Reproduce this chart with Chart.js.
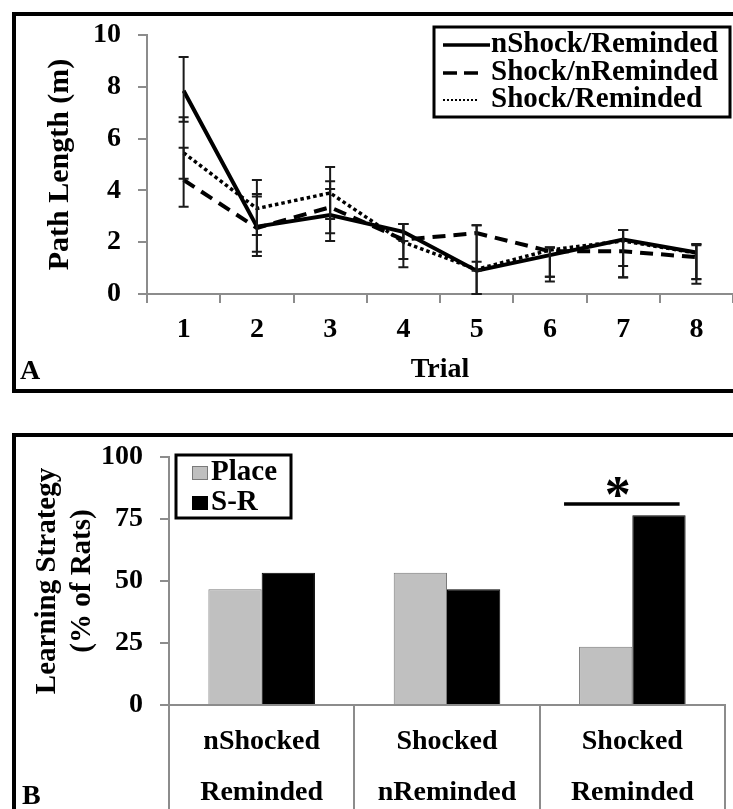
<!DOCTYPE html>
<html>
<head>
<meta charset="utf-8">
<script src="https://cdn.jsdelivr.net/npm/chart.js"></script>
<style>
  html, body { margin: 0; padding: 0; background: #fff; }
  body { position: relative; width: 733px; height: 809px; overflow: hidden; font-family: "Liberation Serif", "Times New Roman", serif; }
  .frame { position: absolute; border: 4px solid #000; border-right: none; }
  #frameA { left: 12px; top: 12px; width: 760px; height: 373px; }
  #frameB { left: 12px; top: 433px; width: 760px; height: 420px; border-bottom: none; }
  .panel-tag { position: absolute; font-weight: bold; font-size: 28px; line-height: 1; color: #000; }
  canvas { position: absolute; left: 0; }
  #pathChart { top: 0; }
  #strategyChart { top: 400px; }
</style>
</head>
<body>
<div class="frame" id="frameA"></div>
<div class="frame" id="frameB"></div>
<canvas id="pathChart" width="733" height="400"></canvas>
<canvas id="strategyChart" width="733" height="409"></canvas>
<div class="panel-tag" style="left:20px; top:356px;">A</div>
<div class="panel-tag" style="left:22px; top:781px;">B</div>

<script>
// ---- panel A: path length per trial ----
var trials = ['1', '2', '3', '4', '5', '6', '7', '8'];

var nShockReminded = [7.85, 2.6, 3.05, 2.4, 0.9, 1.5, 2.1, 1.6];
var shockNReminded = [4.4, 2.55, 3.35, 2.1, 2.35, 1.65, 1.65, 1.42];
var shockReminded  = [5.45, 3.3, 3.9, 2.0, 0.95, 1.7, 2.05, 1.58];

// error bar lengths above / below each mean
var nShockRemUp    = [1.3, 1.26, 1.0, 0.3, 1.75, 0.3, 0.37, 0.33];
var nShockRemDown  = [1.2, 1.13, 1.0, 0.35, 0.9, 0.83, 1.02, 1.2];
var shockNRemUp    = [1.25, 1.21, 1.0, 0.6, 0.3, 0.15, 0.82, 0.5];
var shockNRemDown  = [1.03, 0.92, 1.0, 0.75, 1.45, 1.17, 1.0, 0.85];
var shockRemUp     = [1.37, 1.1, 1.0, 0.7, 0.3, 0.1, 0.42, 0.3];
var shockRemDown   = [1.0, 1.02, 1.0, 0.97, 0.95, 1.03, 1.41, 1.0];

var pathTicks = [0, 2, 4, 6, 8, 10];

// ---- panel B: learning strategy ----
var groups = [['nShocked', 'Reminded'], ['Shocked', 'nReminded'], ['Shocked', 'Reminded']];
var placePct = [46.7, 53.3, 23.5];
var srPct    = [53.3, 46.7, 76.5];
var pctTicks = [0, 25, 50, 75, 100];
var sigGroup = 2;
var sigLevel = 81;

var FONT = '"Liberation Serif", "Times New Roman", serif';
Chart.defaults.font.family = FONT;
Chart.defaults.font.weight = 'bold';
Chart.defaults.color = '#000';

var AXIS_GREY = '#8c8c8c';

function boldFont(size, lh) {
  return { family: FONT, size: size, weight: 'bold', lineHeight: lh || 1.2 };
}

// vertical error bars with caps, drawn from the scales
var errorBars = {
  id: 'errorBars',
  afterDatasetsDraw: function (chart) {
    var ctx = chart.ctx, y = chart.scales.y, area = chart.chartArea;
    ctx.save();
    ctx.beginPath();
    ctx.rect(area.left, area.top, area.right - area.left, area.bottom - area.top + 1);
    ctx.clip();
    ctx.strokeStyle = '#1a1a1a';
    ctx.lineWidth = 2;
    chart.data.datasets.forEach(function (ds, di) {
      var meta = chart.getDatasetMeta(di);
      ds.data.forEach(function (v, i) {
        var px = meta.data[i].x;
        var top = y.getPixelForValue(v + ds.errUp[i]);
        var bot = y.getPixelForValue(Math.max(0, v - ds.errDown[i]));
        ctx.beginPath();
        ctx.moveTo(px, top); ctx.lineTo(px, bot);
        ctx.moveTo(px - 5, top); ctx.lineTo(px + 5, top);
        ctx.moveTo(px - 5, bot); ctx.lineTo(px + 5, bot);
        ctx.stroke();
      });
    });
    ctx.restore();
  }
};

// boxed legend with line samples
var lineLegend = {
  id: 'lineLegend',
  afterDraw: function (chart) {
    var ctx = chart.ctx;
    var rows = [45, 73, 100];
    var samples = [
      { dash: [], width: 3.5, end: 490 },
      { dash: [14, 7], width: 3.5, end: 479 },
      { dash: [2, 2], width: 2, end: 479 }
    ];
    ctx.save();
    ctx.lineWidth = 3;
    ctx.strokeStyle = '#000';
    ctx.strokeRect(434, 27, 296, 90);
    ctx.font = 'bold 29px ' + FONT;
    ctx.textBaseline = 'middle';
    ctx.fillStyle = '#000';
    chart.data.datasets.forEach(function (ds, i) {
      var ry = rows[i], s = samples[i];
      ctx.beginPath();
      ctx.setLineDash(s.dash);
      ctx.lineWidth = s.width;
      ctx.moveTo(443, ry); ctx.lineTo(s.end, ry);
      ctx.stroke();
      ctx.setLineDash([]);
      ctx.fillText(ds.label, 491, ry);
    });
    ctx.restore();
  }
};

new Chart(document.getElementById('pathChart'), {
  type: 'line',
  data: {
    labels: trials,
    datasets: [
      { label: 'nShock/Reminded', data: nShockReminded, errUp: nShockRemUp, errDown: nShockRemDown,
        borderColor: '#000', borderWidth: 4, borderDash: [] },
      { label: 'Shock/nReminded', data: shockNReminded, errUp: shockNRemUp, errDown: shockNRemDown,
        borderColor: '#000', borderWidth: 4, borderDash: [13, 8] },
      { label: 'Shock/Reminded', data: shockReminded, errUp: shockRemUp, errDown: shockRemDown,
        borderColor: '#000', borderWidth: 3.5, borderDash: [3.5, 3] }
    ]
  },
  options: {
    responsive: false,
    animation: false,
    elements: { point: { radius: 0 }, line: { tension: 0, fill: false } },
    layout: { padding: { top: 35, left: 0, right: 0, bottom: 0 } },
    plugins: { legend: { display: false }, tooltip: { enabled: false } },
    scales: {
      x: {
        offset: true,
        grid: { offset: true, drawOnChartArea: false, tickLength: 9, color: AXIS_GREY, lineWidth: 2 },
        border: { color: AXIS_GREY, width: 2 },
        ticks: { font: boldFont(28), color: '#000', padding: 10 },
        title: { display: true, text: 'Trial', font: boldFont(28), color: '#000', padding: { top: 0, bottom: 13 } },
        afterFit: function (s) { s.height = 106; }
      },
      y: {
        min: 0, max: 10,
        afterBuildTicks: function (s) { s.ticks = pathTicks.map(function (v) { return { value: v }; }); },
        grid: { drawOnChartArea: false, tickLength: 9, color: AXIS_GREY, lineWidth: 2 },
        border: { color: AXIS_GREY, width: 2 },
        ticks: { font: boldFont(28), color: '#000', padding: 17 },
        title: { display: true, text: 'Path Length (m)', font: boldFont(30), color: '#000', padding: { top: 42, bottom: 0 } },
        afterFit: function (s) { s.width = 147; }
      }
    }
  },
  plugins: [errorBars, lineLegend]
});

// boxed legend with filled swatches
var barLegend = {
  id: 'barLegend',
  afterDraw: function (chart) {
    var ctx = chart.ctx;
    var rows = [73, 103];
    ctx.save();
    ctx.lineWidth = 3;
    ctx.strokeStyle = '#000';
    ctx.strokeRect(176, 55, 115, 63);
    ctx.font = 'bold 29px ' + FONT;
    ctx.textBaseline = 'middle';
    chart.data.datasets.forEach(function (ds, i) {
      var ry = rows[i];
      ctx.fillStyle = ds.backgroundColor;
      ctx.fillRect(192, ry - 7, 16, 14);
      ctx.lineWidth = 1;
      ctx.strokeStyle = ds.borderColor;
      ctx.strokeRect(192.5, ry - 6.5, 15, 13);
      ctx.fillStyle = '#000';
      ctx.fillText(ds.label, 211, ry);
    });
    ctx.restore();
  }
};

// significance bar and asterisk over one group
var sigMark = {
  id: 'sigMark',
  afterDatasetsDraw: function (chart) {
    var ctx = chart.ctx;
    var a = chart.getDatasetMeta(0).data[sigGroup];
    var b = chart.getDatasetMeta(1).data[sigGroup];
    var left = a.x - a.width / 2 - 15;
    var right = b.x + b.width / 2 - 6;
    var y = chart.scales.y.getPixelForValue(sigLevel);
    ctx.save();
    ctx.strokeStyle = '#000';
    ctx.lineWidth = 3.5;
    ctx.beginPath();
    ctx.moveTo(left, y); ctx.lineTo(right, y);
    ctx.stroke();
    ctx.fillStyle = '#000';
    ctx.font = 'bold 52px ' + FONT;
    ctx.textAlign = 'center';
    ctx.textBaseline = 'middle';
    ctx.fillText('*', (left + right) / 2 - 4, y - 6);
    ctx.restore();
  }
};

new Chart(document.getElementById('strategyChart'), {
  type: 'bar',
  data: {
    labels: groups,
    datasets: [
      { label: 'Place', data: placePct, backgroundColor: '#c0c0c0', borderColor: '#7a7a7a', borderWidth: 1 },
      { label: 'S-R', data: srPct, backgroundColor: '#000', borderColor: '#000', borderWidth: 1 }
    ]
  },
  options: {
    responsive: false,
    animation: false,
    categoryPercentage: 0.575,
    barPercentage: 1.0,
    layout: { padding: { top: 57, left: 0, right: 8, bottom: 0 } },
    plugins: { legend: { display: false }, tooltip: { enabled: false } },
    scales: {
      x: {
        grid: { offset: true, drawOnChartArea: false, tickLength: 104, color: AXIS_GREY, lineWidth: 2 },
        border: { color: AXIS_GREY, width: 2 },
        ticks: { font: boldFont(28, 1.8), color: '#000', padding: -92 },
        afterFit: function (s) { s.height = 104; }
      },
      y: {
        min: 0, max: 100,
        afterBuildTicks: function (s) { s.ticks = pctTicks.map(function (v) { return { value: v }; }); },
        grid: { drawOnChartArea: false, tickLength: 9, color: AXIS_GREY, lineWidth: 2 },
        border: { color: AXIS_GREY, width: 2 },
        ticks: { font: boldFont(28), color: '#000', padding: 17 },
        title: { display: true, text: ['Learning Strategy', '(% of Rats)'], font: boldFont(29, 1.2), color: '#000', padding: { top: 30, bottom: 0 } },
        afterFit: function (s) { s.width = 169; }
      }
    }
  },
  plugins: [barLegend, sigMark]
});
</script>
</body>
</html>
